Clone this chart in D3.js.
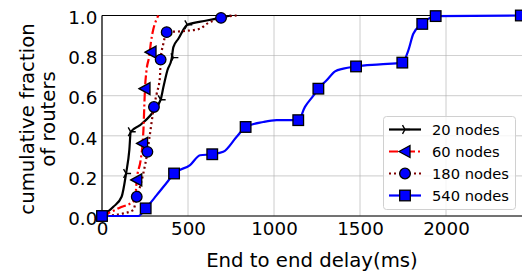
<!DOCTYPE html>
<html>
<head>
<meta charset="utf-8">
<script src="https://cdn.jsdelivr.net/npm/d3@7"></script>
<style>
body { margin: 0; background: #fff; }
svg { display: block; font-family: "DejaVu Sans", sans-serif; }
</style>
</head>
<body>
<svg width="522" height="272"></svg>
<script>
// Data set
var seriesNames = ["20 nodes", "60 nodes", "180 nodes", "540 nodes"];

var line20 = [[0,0],[66,0.046],[114,0.096],[140,0.212],[159,0.33],[167,0.42],[221,0.453],[289,0.51],[341,0.58],[357,0.643],[380,0.726],[405,0.785],[415,0.842],[444,0.884],[496,0.954],[609,0.975],[696,0.99],[750,1.0]];
var marks20 = [[0,0],[140,0.212],[167,0.42],[341,0.58],[415,0.79],[496,0.954]];

var line60 = [[0,0],[100,0.04],[192,0.08],[202,0.18],[225,0.28],[236,0.362],[242,0.45],[246,0.55],[250,0.635],[258,0.72],[275,0.8],[285,0.87],[298,0.93],[312,0.97],[328,1.0]];
var marks60 = [[202,0.18],[236,0.362],[250,0.635],[285,0.817]];

var line180 = [[0,0],[124,0.013],[182,0.03],[202,0.096],[221,0.146],[240,0.212],[264,0.32],[279,0.41],[302,0.544],[318,0.61],[337,0.693],[341,0.78],[357,0.86],[376,0.917],[473,0.922],[570,0.934],[609,0.958],[692,0.988],[783,1.0]];
var marks180 = [[202,0.096],[264,0.32],[302,0.544],[341,0.78],[376,0.917],[692,0.988]];

var line540 = [[0,0],[211,0],[254,0.038],[318,0.104],[376,0.166],[419,0.212],[512,0.254],[570,0.303],[641,0.308],[705,0.32],[783,0.395],[835,0.444],[938,0.469],[1015,0.478],[1141,0.478],[1180,0.544],[1229,0.6],[1258,0.635],[1306,0.677],[1355,0.721],[1403,0.735],[1477,0.746],[1616,0.756],[1746,0.765],[1781,0.826],[1810,0.909],[1862,0.958],[1897,0.983],[1940,0.997],[2435,1.0]];
var marks540 = [[0,0],[254,0.038],[419,0.212],[641,0.308],[835,0.444],[1141,0.478],[1258,0.635],[1477,0.746],[1746,0.765],[1862,0.958],[1940,0.997],[2435,1.0]];

var xTicks = [0, 500, 1000, 1500, 2000];
var yTicks = [0, 0.2, 0.4, 0.6, 0.8, 1.0];

var svg = d3.select("svg");

// Scaling function
var xScale = d3.scaleLinear().domain([0, 2450]).range([102, 523.4]);
var yScale = d3.scaleLinear().domain([0, 1]).range([216, 15.5]);

var plot = svg.append("g");

// grid
plot.selectAll(".gx").data(xTicks).enter().append("line")
	.attr("x1", function(d) { return xScale(d); }).attr("x2", function(d) { return xScale(d); })
	.attr("y1", yScale(0)).attr("y2", yScale(1))
	.attr("stroke", "#b0b0b0").attr("stroke-width", 0.8).attr("opacity", 0.8);
plot.selectAll(".gy").data(yTicks).enter().append("line")
	.attr("x1", xScale(0)).attr("x2", xScale(2450))
	.attr("y1", function(d) { return yScale(d); }).attr("y2", function(d) { return yScale(d); })
	.attr("stroke", "#b0b0b0").attr("stroke-width", 0.8).attr("opacity", 0.8);

// axes
var xAxis = svg.append("g").attr("transform", "translate(0," + yScale(0) + ")")
	.call(d3.axisBottom(xScale).tickValues(xTicks).tickSize(0).tickPadding(6).tickFormat(d3.format("d")));
var yAxis = svg.append("g").attr("transform", "translate(" + xScale(0) + ",0)")
	.call(d3.axisLeft(yScale).tickValues(yTicks).tickSize(0).tickPadding(4.7).tickFormat(d3.format(".1f")));
[xAxis, yAxis].forEach(function(a) {
	a.select(".domain").remove();
	a.selectAll("text").attr("font-size", "18.3px").attr("fill", "#000").attr("font-family", "DejaVu Sans");
});
yAxis.selectAll("text").attr("dy", "0.45em");

// spines
svg.append("line").attr("x1", xScale(0)).attr("x2", xScale(0)).attr("y1", yScale(0)).attr("y2", yScale(1)).attr("stroke", "#000").attr("stroke-width", 1.2);
svg.append("line").attr("x1", xScale(0)).attr("x2", 522).attr("y1", yScale(0)).attr("y2", yScale(0)).attr("stroke", "#000").attr("stroke-width", 1.2);
svg.append("line").attr("x1", xScale(0)).attr("x2", 522).attr("y1", yScale(1)).attr("y2", yScale(1)).attr("stroke", "#000").attr("stroke-width", 1.2);

var line = d3.line()
	.x(function(d) { return xScale(d[0]); })
	.y(function(d) { return yScale(d[1]); })
	.curve(d3.curveMonotoneX);

var series = [
	{name: seriesNames[0], line: line20, marks: marks20, color: "#000000", dash: null, marker: "tri"},
	{name: seriesNames[1], line: line60, marks: marks60, color: "#ff0000", dash: "9,3,2,3", marker: "left"},
	{name: seriesNames[2], line: line180, marks: marks180, color: "#800000", dash: "2,3", marker: "circle"},
	{name: seriesNames[3], line: line540, marks: marks540, color: "#0000ff", dash: null, marker: "square"}
];

function drawMarker(g, type, x, y, color) {
	if (type == "tri") {
		// tri_right: spokes to the right, up-left and down-left
		var r = 5;
		g.append("path")
			.attr("d", "M" + x + "," + y + "L" + (x + r) + "," + y +
				"M" + x + "," + y + "L" + (x - r * 0.5) + "," + (y - r * 0.866) +
				"M" + x + "," + y + "L" + (x - r * 0.5) + "," + (y + r * 0.866))
			.attr("stroke", color).attr("stroke-width", 1.4).attr("fill", "none");
	} else if (type == "left") {
		g.append("path").attr("d", "M" + (x - 6) + "," + y + "L" + (x + 5) + "," + (y - 6) + "L" + (x + 5) + "," + (y + 6) + "Z")
			.attr("fill", "#0000ff").attr("stroke", "#000").attr("stroke-width", 1.3);
	} else if (type == "circle") {
		g.append("circle").attr("cx", x).attr("cy", y).attr("r", 5.3)
			.attr("fill", "#0000ff").attr("stroke", "#000").attr("stroke-width", 1.3);
	} else {
		g.append("rect").attr("x", x - 5.3).attr("y", y - 5.3).attr("width", 10.6).attr("height", 10.6)
			.attr("fill", "#0000ff").attr("stroke", "#000").attr("stroke-width", 1.3);
	}
}

svg.append("clipPath").attr("id", "clip").append("rect").attr("x", 92).attr("y", 5).attr("width", 440).attr("height", 220);

var dataG = svg.append("g").attr("clip-path", "url(#clip)");
series.forEach(function(s) {
	dataG.append("path").datum(s.line)
		.attr("fill", "none").attr("stroke", s.color).attr("stroke-width", 2.2)
		.attr("stroke-dasharray", s.dash)
		.attr("d", line);
});
series.forEach(function(s) {
	var g = dataG.append("g");
	s.marks.forEach(function(d) { drawMarker(g, s.marker, xScale(d[0]), yScale(d[1]), s.color); });
});

// Legend
var legend = svg.append("g");
legend.append("rect").attr("x", 383.5).attr("y", 116.5).attr("width", 132).attr("height", 93).attr("rx", 3)
	.attr("fill", "#fff").attr("fill-opacity", 0.8).attr("stroke", "#d0d0d0");
series.forEach(function(s, i) {
	var y = 129.5 + i * 22;
	legend.append("line").attr("x1", 389).attr("x2", 421).attr("y1", y).attr("y2", y)
		.attr("stroke", s.color).attr("stroke-width", 2.2).attr("stroke-dasharray", s.dash);
	drawMarker(legend, s.marker, 405, y, s.color);
	legend.append("text").attr("x", 432).attr("y", y).attr("dy", "0.36em")
		.attr("font-size", "14.7px").text(s.name);
});

// Labels
svg.append("text").attr("x", 312).attr("y", 267).attr("text-anchor", "middle").attr("font-size", "19.7px").text("End to end delay(ms)");
svg.append("text").attr("transform", "translate(33.5,119) rotate(-90)").attr("text-anchor", "middle").attr("font-size", "19.7px").text("cumulative fraction");
svg.append("text").attr("transform", "translate(55,119) rotate(-90)").attr("text-anchor", "middle").attr("font-size", "19.7px").text("of routers");
</script>
</body>
</html>
